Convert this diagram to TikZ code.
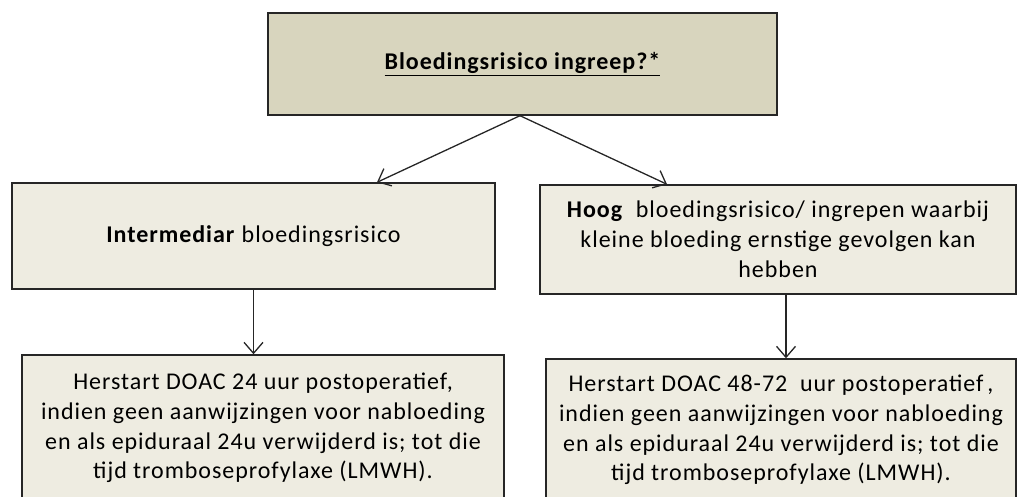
\documentclass[tikz,border=0pt]{standalone}
\usepackage{fontspec}
\setmainfont{Carlito}[LetterSpace=4]
\usetikzlibrary{arrows.meta}
\definecolor{topfill}{HTML}{D8D5BE}
\definecolor{boxfill}{HTML}{EEECE1}
\tikzset{
  box/.style={draw=black!85, line width=1.4pt, fill=boxfill, align=center, inner sep=0pt,
    font=\fontsize{24}{29.8}\selectfont},
  conn/.style={draw=black!85, line width=1.3pt, -{Straight Barb[length=11pt,width=19pt,line width=1.3pt]}}
}
\begin{document}
\begin{tikzpicture}[x=1pt,y=-1pt]
\useasboundingbox (0,0) rectangle (1019,497);
\clip (0,0) rectangle (1019,497);
\node[box, fill=topfill, minimum width=509pt, minimum height=102pt] (top) at (522.5,64)
  {\textbf{\underline{Bloedingsrisico ingreep?*}}};
\node[box, minimum width=483pt, minimum height=106pt] (left) at (253.5,236)
  {\textbf{Intermediar} bloedingsrisico};
\node[box, minimum width=476pt, minimum height=109pt] (right) at (778,239.5)
  {\textbf{Hoog}\ \ bloedingsrisico/ ingrepen waarbij\\ kleine bloeding ernstige gevolgen kan\\ hebben};
\node[box, minimum width=482pt, minimum height=146pt] (bl) at (263,428)
  {Herstart DOAC 24 uur postoperatief,\\ indien geen aanwijzingen voor nabloeding\\ en als epiduraal 24u verwijderd is; tot die\\ tijd tromboseprofylaxe (LMWH).};
\node[box, minimum width=470pt, minimum height=142pt] (br) at (781,430)
  {Herstart DOAC 48-72\ \ uur postoperatief\,,\\ indien geen aanwijzingen voor nabloeding\\ en als epiduraal 24u verwijderd is; tot die\\ tijd tromboseprofylaxe (LMWH).};
\draw[conn] ([xshift=-2.5pt]top.south) -- ([xshift=123.5pt]left.north);
\draw[conn] ([xshift=-2.5pt]top.south) -- ([xshift=-111pt]right.north);
\draw[conn] (left.south) -- (left.south |- bl.north);
\draw[conn] ([xshift=8pt]right.south) -- ([xshift=8pt]right.south |- br.north);
\end{tikzpicture}
\end{document}
